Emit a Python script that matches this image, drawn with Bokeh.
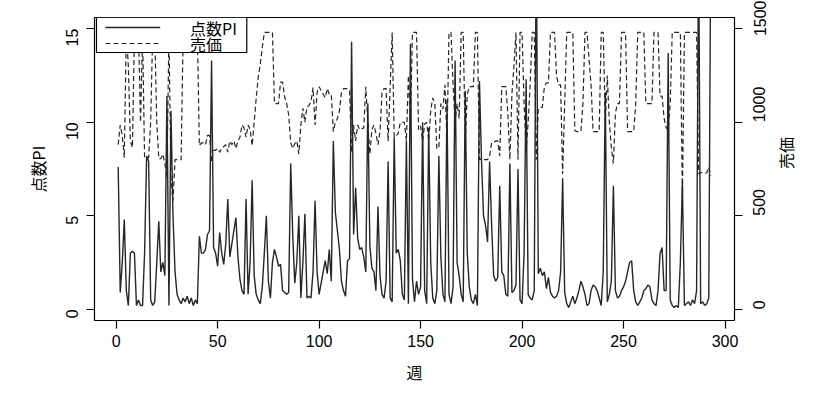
import math
from bokeh.plotting import figure
from bokeh.models import Range1d, LinearAxis, FixedTicker, ColumnDataSource, BoxAnnotation, Label
from bokeh.embed import file_html
from bokeh.resources import INLINE

# 点数PI (left axis), weekly
pi_values = [
    7.6, 0.9, 2.5, 4.8, 1.0, 0.2, 3.0, 3.1, 3.0, 0.2,
    0.5, 0.2, 0.2, 3.0, 8.2, 7.9, 0.5, 0.2, 0.4, 2.5,
    4.7, 2.0, 2.5, 1.8, 11.4, 0.2, 10.6, 5.0, 2.0, 0.8,
    0.5, 0.3, 0.6, 0.4, 0.7, 0.3, 0.6, 0.2, 0.5, 0.3,
    3.9, 3.0, 3.0, 3.2, 4.0, 4.2, 13.3, 3.3, 3.0, 2.3,
    4.1, 3.0, 2.4, 3.5, 5.9, 2.8, 3.5, 4.2, 4.9, 2.8,
    1.6, 1.0, 0.8, 5.9, 0.8, 2.5, 6.9, 1.8, 0.8, 0.5,
    0.3, 1.2, 3.0, 5.0, 1.5, 0.6, 2.5, 3.2, 2.8, 2.3,
    2.4, 1.0, 0.9, 0.8, 0.9, 7.8, 4.0, 1.4, 2.5, 5.0,
    0.6, 2.5, 5.1, 0.6, 0.7, 0.6, 2.0, 5.8, 2.0, 0.8,
    1.4, 2.0, 2.6, 1.9, 3.2, 1.5, 9.0, 5.2, 4.2, 3.2,
    1.5, 1.0, 0.7, 2.6, 2.7, 14.3, 4.0, 6.5, 3.8, 3.2,
    3.3, 2.8, 2.0, 11.0, 3.4, 2.2, 2.0, 1.0, 5.5, 1.8,
    0.8, 0.6, 1.5, 7.9, 0.6, 0.4, 9.2, 3.0, 3.2, 2.6,
    0.8, 0.5, 9.0, 0.3, 14.2, 1.6, 0.4, 1.5, 0.8, 1.2,
    10.0, 1.0, 0.3, 9.7, 2.5, 0.6, 0.3, 1.0, 8.2, 2.8,
    0.8, 0.4, 11.2, 0.8, 0.3, 1.2, 13.3, 2.5, 1.8, 0.8,
    0.4, 11.7, 3.0, 1.2, 0.5, 0.3, 0.8, 0.2, 12.2, 8.0,
    5.0, 4.5, 3.6, 7.9, 4.5, 1.8, 1.5, 1.7, 6.6, 2.0,
    1.8, 0.8, 0.7, 7.8, 0.9, 1.0, 1.3, 7.5, 0.5, 0.3,
    3.0, 12.3, 0.8, 0.6, 0.5, 1.0, 20.0, 1.9, 2.2, 1.8,
    2.0, 1.1, 1.7, 0.9, 0.7, 0.6, 0.7, 1.0, 2.0, 7.0,
    0.9, 0.3, 0.1, 0.4, 0.7, 0.3, 0.6, 1.0, 1.5, 1.2,
    0.8, 0.2, 0.3, 1.0, 1.3, 1.2, 1.0, 0.6, 0.2, 2.0,
    11.6, 0.4, 0.8, 1.5, 6.6, 1.0, 0.6, 0.7, 1.0, 1.2,
    1.5, 2.0, 2.5, 2.6, 1.0, 0.4, 0.2, 0.4, 0.6, 1.0,
    1.1, 1.3, 1.2, 0.5, 0.3, 0.2, 1.0, 3.0, 3.3, 1.0,
    1.0, 13.7, 0.5, 0.2, 0.1, 0.2, 0.1, 2.5, 6.8, 0.2,
    0.3, 0.4, 0.2, 0.5, 0.3, 1.0, 20.0, 0.3, 0.4, 0.2,
    0.3, 0.6, 20.0,
]

# 売価 (right axis), weekly
price_values = [
    880, 985, 930, 810, 1480, 1300, 900, 865, 1480, 1480,
    1480, 1000, 1480, 810, 810, 810, 1000, 1480, 1480, 1000,
    805, 805, 830, 780, 700, 1480, 700, 580, 800, 800,
    800, 800, 1480, 1480, 1480, 1480, 1480, 1480, 1480, 1480,
    875, 890, 890, 880, 930, 930, 790, 850, 850, 860,
    840, 860, 870, 880, 840, 900, 880, 900, 860, 900,
    920, 985, 970, 920, 985, 960, 875, 1000, 1130, 1240,
    1310, 1400, 1480, 1480, 1480, 1480, 1480, 1100, 1100, 1100,
    1215, 1215, 1135, 1100, 1040, 890, 860, 885, 900, 830,
    985, 1075, 1000, 1080, 1090, 1110, 1185, 985, 1160, 1190,
    1170, 1150, 1130, 1180, 1150, 1150, 950, 1000, 1020, 1060,
    1160, 1180, 1180, 1180, 1170, 840, 985, 900, 985, 960,
    965, 970, 1190, 1000, 830, 960, 985, 940, 880, 950,
    1160, 1180, 1180, 900, 1190, 1480, 920, 930, 940, 1000,
    1000, 1000, 900, 1250, 1000, 1480, 1480, 1480, 960, 980,
    900, 990, 1000, 900, 1065, 1130, 1100, 860, 860, 1100,
    1070, 1200, 900, 1480, 1480, 1200, 1000, 1100, 1020, 1480,
    1480, 900, 1150, 1190, 1190, 1190, 1480, 1480, 800, 805,
    800, 800, 800, 820, 890, 890, 900, 900, 820, 1190,
    1190, 1190, 1050, 800, 1150, 1300, 1480, 800, 1480, 1480,
    1100, 850, 1000, 1200, 1480, 1480, 800, 1070, 1080, 1080,
    1190, 1210, 1210, 1480, 1480, 1480, 1245, 1200, 1200, 723,
    1100, 1480, 1480, 1480, 1480, 955, 950, 950, 950, 1100,
    1480, 1480, 1340, 1200, 950, 950, 950, 950, 1480, 1480,
    1000, 1250, 1000, 865, 780, 1050, 1100, 1100, 1480, 1480,
    1480, 950, 950, 950, 950, 1100, 1480, 1480, 1480, 1480,
    1100, 1100, 1100, 1100, 1480, 1480, 1480, 1140, 1140, 1020,
    970, 960, 1100, 1480, 1480, 1480, 1480, 1480, 600, 1480,
    1480, 1480, 1480, 1480, 1480, 1480, 725, 730, 730, 725,
    730, 760, 713,
]

weeks = list(range(1, len(pi_values) + 1))

x_ticks = [0, 50, 100, 150, 200, 250, 300]
pi_ticks = [0, 5, 10, 15]
price_ticks = [0, 500, 1000, 1500]
pi_lim = (0, 15)
price_lim = (0, 1500)
legend_labels = ["点数PI", "売価"]

src = ColumnDataSource(data=dict(week=weeks, pi=pi_values, price=price_values))

xpad = 0.04 * (weeks[-1] - weeks[0])
ypad = 0.04 * (pi_lim[1] - pi_lim[0])
ppad = 0.04 * (price_lim[1] - price_lim[0])

W, H = 812, 386
BL, BR, BT, BB = 94, 75, 17, 66
x_range = Range1d(weeks[0] - xpad, weeks[-1] + xpad)
y_range = Range1d(pi_lim[0] - ypad, pi_lim[1] + ypad)

p = figure(width=W, height=H, output_backend="svg", toolbar_location=None,
           x_range=x_range, y_range=y_range,
           min_border_left=BL, min_border_right=BR, min_border_top=BT, min_border_bottom=BB,
           x_axis_label="週", y_axis_label="点数PI")
p.extra_y_ranges = {"price": Range1d(price_lim[0] - ppad, price_lim[1] + ppad)}

p.xgrid.visible = False
p.ygrid.visible = False
p.outline_line_color = "black"
p.outline_line_width = 1.2
p.background_fill_color = "white"
p.border_fill_color = "white"

line_col = "#262626"
pi_style = dict(line_color=line_col, line_width=1.4)
pr_style = dict(line_color=line_col, line_width=1.2, line_dash="5 3")
r_pi = p.line("week", "pi", source=src, **pi_style)
r_pr = p.line("week", "price", source=src, y_range_name="price", **pr_style)

right = LinearAxis(y_range_name="price", axis_label="売価")
p.add_layout(right, "right")

tick_font = "Liberation Sans"
label_font = "Noto Sans CJK JP"
for ax, ticks in ((p.xaxis[0], x_ticks), (p.yaxis[0], pi_ticks), (right, price_ticks)):
    ax.ticker = FixedTicker(ticks=ticks)
    ax.minor_tick_line_color = None
    ax.major_tick_out = 8
    ax.major_tick_in = 0
    ax.major_tick_line_color = "black"
    ax.major_tick_line_width = 1.2
    ax.axis_line_color = None
    ax.major_label_text_font = tick_font
    ax.major_label_text_font_size = "16px"
    ax.major_label_text_color = "black"
    ax.axis_label_text_font = label_font
    ax.axis_label_text_font_size = "16px"
    ax.axis_label_text_font_style = "normal"
    ax.axis_label_text_color = "black"

p.xaxis[0].major_label_standoff = 6
p.xaxis[0].axis_label_standoff = 10
p.yaxis[0].major_label_orientation = math.pi / 2
p.yaxis[0].major_label_standoff = 14
p.yaxis[0].axis_label_standoff = 8
right.major_label_orientation = math.pi / 2
right.major_label_standoff = 17
right.axis_label_standoff = 11
right.axis_label_orientation = math.pi / 2

# --- legend (R style, top-left inside the frame), placed in frame pixels ---
frame_w = W - BL - BR
frame_h = H - BT - BB


def fx(px):
    return x_range.start + px * (x_range.end - x_range.start) / frame_w


def fy(py):
    return y_range.end - py * (y_range.end - y_range.start) / frame_h


box = BoxAnnotation(left=fx(2), right=fx(153), top=fy(0), bottom=fy(35),
                    fill_color="white", fill_alpha=1.0,
                    line_color="black", line_width=1.2, line_alpha=1.0)
p.add_layout(box)

p.line([fx(11), fx(66)], [fy(10), fy(10)], level="overlay", **pi_style)
p.line([fx(11), fx(66)], [fy(26), fy(26)], level="overlay", **pr_style)
for lab, py in zip(legend_labels, (10, 26)):
    p.add_layout(Label(x=fx(96), y=fy(py), text=lab, text_font=label_font,
                       text_font_size="16px", text_baseline="middle", text_align="left",
                       text_color="black", level="overlay"))

open("out.html", "w").write(file_html(p, INLINE))
